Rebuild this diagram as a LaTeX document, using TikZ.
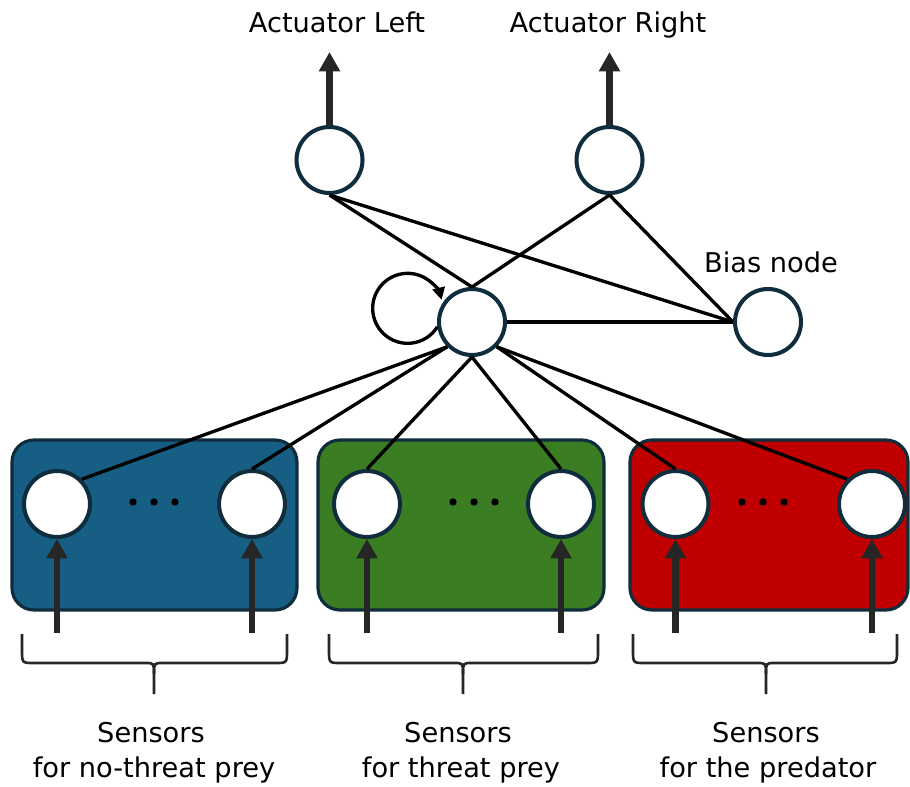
\documentclass[tikz,border=0pt]{standalone}
\usepackage{fontspec}
\setmainfont{DejaVu Sans}
\usetikzlibrary{arrows.meta}
\definecolor{nodeedge}{HTML}{0F2D3C}
\definecolor{boxblue}{HTML}{165E83}
\definecolor{boxgreen}{HTML}{3B7D23}
\definecolor{boxred}{HTML}{C00000}
\definecolor{arrowgray}{HTML}{262626}
\newcommand\drawsensorbrace[3]{%
  \draw[bracestyle] (#1,634) -- (#1,650) .. controls (#1,663) .. (#1+12,663) -- (#2-9,663) .. controls (#2,663) .. (#2,674) -- (#2,694);
  \draw[bracestyle] (#3,634) -- (#3,650) .. controls (#3,663) .. (#3-12,663) -- (#2+9,663) .. controls (#2,663) .. (#2,674);
}
\begin{document}
\begin{tikzpicture}[x=0.02cm,y=-0.02cm,
  neuron/.style={circle, draw=nodeedge, line width=2.3pt, fill=white, minimum size=1.32cm, inner sep=0pt},
  sensorbox/.style={draw=nodeedge, line width=1.8pt, rounded corners=0.44cm},
  conn/.style={draw=black, line width=1.9pt},
  bigarrow/.style={draw=arrowgray, line width=3.5pt, -{Triangle[width=11.5pt,length=11pt]}},
  looparrow/.style={draw=black, line width=1.9pt, -{Triangle[width=7pt,length=7pt]}},
  lbl/.style={font=\fontsize{15.5pt}{20pt}\selectfont, inner sep=0pt, anchor=base},
  bracestyle/.style={draw=arrowgray, line width=1.5pt},
  dot/.style={circle, fill=black, minimum size=4.2pt, inner sep=0pt}
]
\useasboundingbox (0,0) rectangle (910,787);

% sensor group boxes
\draw[sensorbox, fill=boxblue]  (12,440) rectangle (297,610);
\draw[sensorbox, fill=boxgreen] (318,440) rectangle (604,610);
\draw[sensorbox, fill=boxred]   (630,440) rectangle (908,610);

% neurons
\node[neuron] (a1) at (329.5,160) {};
\node[neuron] (a2) at (609.5,160) {};
\node[neuron] (h) at (472,322) {};
\node[neuron] (bias) at (768,322) {};
\node[neuron] (b1) at (57,504) {};
\node[neuron] (b2) at (252,504) {};
\node[neuron] (g1) at (367,504) {};
\node[neuron] (g2) at (561,504) {};
\node[neuron] (r1) at (675.5,504) {};
\node[neuron] (r2) at (872,504) {};

% dots
\node[dot] (d1) at (133,502) {};
\node[dot] (d2) at (154,502) {};
\node[dot] (d3) at (175,502) {};
\node[dot] (d4) at (453,502) {};
\node[dot] (d5) at (474,502) {};
\node[dot] (d6) at (495,502) {};
\node[dot] (d7) at (742,502) {};
\node[dot] (d8) at (763,502) {};
\node[dot] (d9) at (784,502) {};

% labels
\node[lbl] (la1) at (337,33) {Actuator Left};
\node[lbl] (la2) at (608,33) {Actuator Right};
\node[lbl] (lb) at (771,273) {Bias node};
\node[lbl] (s1a) at (151,742) {Sensors};
\node[lbl] (s1b) at (154,777) {for no-threat prey};
\node[lbl] (s2a) at (458,742) {Sensors};
\node[lbl] (s2b) at (461,777) {for threat prey};
\node[lbl] (s3a) at (766,742) {Sensors};
\node[lbl] (s3b) at (768,777) {for the predator};

% connections
\draw[conn] (a1.south) -- (h.north);
\draw[conn] (a1.south) -- (bias.west);
\draw[conn] (a2.south) -- (h.north);
\draw[conn] (a2.south) -- (bias.west);
\draw[conn] (h.east) -- (bias.west);
\draw[conn] (h.south west) -- (b1.north east);
\draw[conn] (h.south west) -- (b2.north);
\draw[conn] (h.south) -- (g1.north);
\draw[conn] (h.south) -- (g2.north);
\draw[conn] (h.south east) -- (r1.north);
\draw[conn] (h.south east) -- (r2.north west);

% recurrent loop
\draw[looparrow] (h.188) arc[start angle=-32, end angle=-346, radius=0.7cm];

% outputs
\coordinate (a1o) at (329.5,52);
\coordinate (a2o) at (609.5,52);
\draw[bigarrow] (a1.north) -- (a1o);
\draw[bigarrow] (a2.north) -- (a2o);

% inputs
\coordinate (b1i) at (57,633);
\coordinate (b2i) at (252,633);
\coordinate (g1i) at (367,633);
\coordinate (g2i) at (561,633);
\coordinate (r1i) at (675.5,633);
\coordinate (r2i) at (872,633);
\draw[bigarrow] (b1i) -- (b1.south);
\draw[bigarrow] (b2i) -- (b2.south);
\draw[bigarrow] (g1i) -- (g1.south);
\draw[bigarrow] (g2i) -- (g2.south);
\draw[bigarrow] (r1i) -- (r1.south);
\draw[bigarrow] (r2i) -- (r2.south);

% braces
\drawsensorbrace{22}{154}{287}
\drawsensorbrace{329}{463}{598}
\drawsensorbrace{633}{766}{897}
\end{tikzpicture}
\end{document}
